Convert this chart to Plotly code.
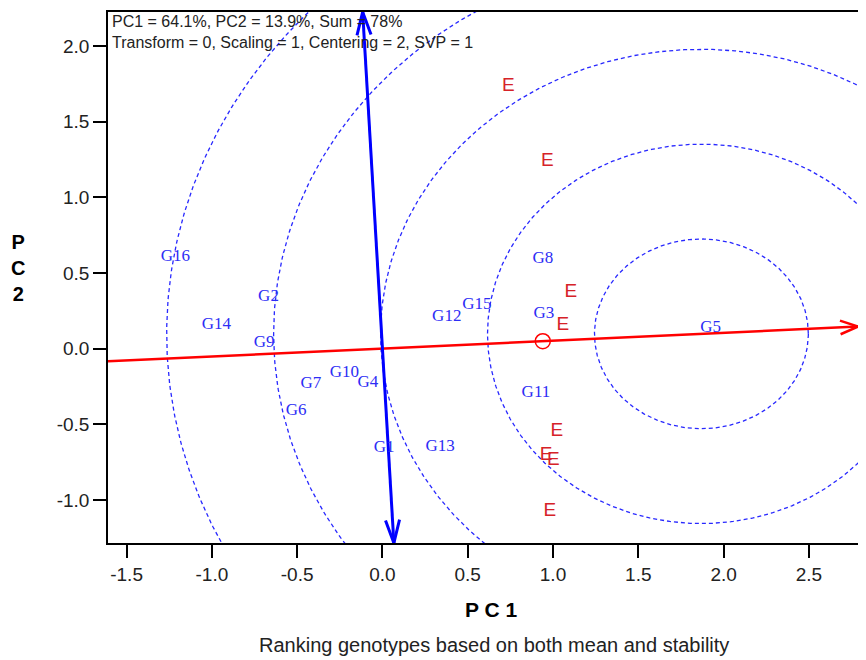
import numpy as np
import plotly.graph_objects as go

# ---------------- data ----------------
genotypes = ["G1", "G2", "G3", "G4", "G5", "G6", "G7", "G8",
             "G9", "G10", "G11", "G12", "G13", "G14", "G15", "G16"]
gen_pc1 = [0.010, -0.668, 0.947, -0.086, 1.924, -0.506, -0.419, 0.940,
           -0.693, -0.223, 0.900, 0.377, 0.338, -0.974, 0.553, -1.214]
gen_pc2 = [-0.658, 0.340, 0.229, -0.225, 0.135, -0.410, -0.233, 0.593,
           0.040, -0.159, -0.291, 0.208, -0.652, 0.159, 0.287, 0.604]

env_labels = ["E", "E", "E", "E", "E", "E", "E", "E"]
env_pc1 = [0.738, 0.967, 1.104, 1.057, 1.022, 0.959, 1.002, 0.982]
env_pc2 = [1.732, 1.236, 0.373, 0.157, -0.549, -0.703, -0.736, -1.077]

# average environment (defines AEC axis) and ideal-genotype centre
avg_env = (0.940, 0.049)
ideal_pc1 = 1.870
ring_step = 0.627
ring_count = 5

x_ticks = [-1.5, -1.0, -0.5, 0.0, 0.5, 1.0, 1.5, 2.0, 2.5]
y_ticks = [-1.0, -0.5, 0.0, 0.5, 1.0, 1.5, 2.0]
x_range = [-1.609, 2.835]
y_range = [-1.285, 2.225]

info_text = "PC1 = 64.1%, PC2 = 13.9%, Sum = 78%<br>Transform = 0, Scaling = 1, Centering = 2, SVP = 1"
caption = "Ranking genotypes based on both mean and stability"

# ---------------- layout constants ----------------
OFF = 8                      # page body margin of the html page
W, H = 866 - OFF, 660 - OFF
PLOT_L, PLOT_R, PLOT_T, PLOT_B = 108, 866, 12, 543   # screen pixels
VIS_R = 858                                           # right edge actually visible
ML, MT = PLOT_L - OFF, PLOT_T - OFF
PW, PH = PLOT_R - PLOT_L, PLOT_B - PLOT_T
MR = W - ML - PW
MB = H - MT - PH
sx = PW / (x_range[1] - x_range[0])
sy = PH / (y_range[1] - y_range[0])

RED = "rgb(255,0,0)"
BLUE = "rgb(0,0,255)"
GEN_COL = "rgb(45,45,245)"
ENV_COL = "rgb(214,34,40)"

slope = avg_env[1] / avg_env[0]


def arrow_wings(tip, direction, length_px=21, half_angle_deg=19):
    """Open V arrowhead at tip pointing along direction (data units)."""
    dxp, dyp = direction[0] * sx, direction[1] * sy
    n = np.hypot(dxp, dyp)
    dxp, dyp = dxp / n, dyp / n
    pts = []
    for s in (1, -1):
        a = np.radians(half_angle_deg) * s
        bx = -(dxp * np.cos(a) - dyp * np.sin(a)) * length_px
        by = -(dxp * np.sin(a) + dyp * np.cos(a)) * length_px
        pts.append((tip[0] + bx / sx, tip[1] + by / sy))
    return [pts[0][0], tip[0], pts[1][0]], [pts[0][1], tip[1], pts[1][1]]


fig = go.Figure()

# concentric rings around the ideal genotype
cy = slope * ideal_pc1
theta = np.linspace(0, 2 * np.pi, 721)
for k in range(1, ring_count + 1):
    r = ring_step * k
    fig.add_trace(go.Scatter(
        x=ideal_pc1 + r * np.cos(theta), y=cy + r * np.sin(theta),
        mode="lines", line=dict(color="rgb(40,40,255)", width=1.3, dash="4px,3px"),
        hoverinfo="skip", showlegend=False))

# AEC abscissa (red) with arrow at the (visible) right edge
ax0 = x_range[0]
ax1 = x_range[1] - (PLOT_R - VIS_R) / sx
fig.add_trace(go.Scatter(x=[ax0, ax1], y=[slope * ax0, slope * ax1], mode="lines",
                         line=dict(color=RED, width=2.5), hoverinfo="skip", showlegend=False))
wx, wy = arrow_wings((ax1, slope * ax1), (1, slope), length_px=19, half_angle_deg=21)
fig.add_trace(go.Scatter(x=wx, y=wy, mode="lines", line=dict(color=RED, width=2.5),
                         hoverinfo="skip", showlegend=False))

# AEC ordinate (blue), perpendicular through origin, arrows at both ends
perp = (-avg_env[1], avg_env[0])
t_top = y_range[1] / perp[1]
t_bot = y_range[0] / perp[1]
top = (perp[0] * t_top, perp[1] * t_top)
bot = (perp[0] * t_bot, perp[1] * t_bot)
fig.add_trace(go.Scatter(x=[bot[0], top[0]], y=[bot[1], top[1]], mode="lines",
                         line=dict(color=BLUE, width=3), hoverinfo="skip", showlegend=False))
for tip, d in ((top, perp), (bot, (-perp[0], -perp[1]))):
    wx, wy = arrow_wings(tip, d, length_px=24, half_angle_deg=17)
    fig.add_trace(go.Scatter(x=wx, y=wy, mode="lines", line=dict(color=BLUE, width=3),
                             hoverinfo="skip", showlegend=False))

# average environment marker
fig.add_trace(go.Scatter(x=[avg_env[0]], y=[avg_env[1]], mode="markers",
                         marker=dict(symbol="circle-open", size=15, color=RED, line=dict(width=1.5)),
                         hoverinfo="skip", showlegend=False))

# genotype labels
fig.add_trace(go.Scatter(x=gen_pc1, y=gen_pc2, mode="text", text=genotypes,
                         textposition="middle center",
                         textfont=dict(family="Liberation Serif", size=17, color=GEN_COL),
                         hoverinfo="skip", showlegend=False))
# environment labels
fig.add_trace(go.Scatter(x=env_pc1, y=env_pc2, mode="text", text=env_labels,
                         textposition="middle center",
                         textfont=dict(family="Liberation Sans", size=19, color=ENV_COL),
                         hoverinfo="skip", showlegend=False))

axis_common = dict(showgrid=False, zeroline=False, showline=True, linecolor="black",
                   linewidth=1.5, ticks="outside", ticklen=13, tickwidth=1.5, tickcolor="black",
                   tickfont=dict(family="Liberation Sans", size=19, color="#222"))


def px_x(screen_x):
    return (screen_x - PLOT_L) / PW


def px_y(screen_y):
    return (PLOT_B - screen_y) / PH


fig.update_layout(
    width=W, height=H,
    margin=dict(l=ML, r=MR, t=MT, b=MB, pad=0),
    plot_bgcolor="white", paper_bgcolor="white",
    xaxis=dict(range=x_range, tickvals=x_ticks, ticktext=[f"{v:.1f}" for v in x_ticks],
               mirror=True, **axis_common),
    yaxis=dict(range=y_range, tickvals=y_ticks, ticktext=[f"{v:.1f}" for v in y_ticks],
               mirror=False, **axis_common),
    annotations=[
        dict(text=info_text, xref="paper", yref="paper", x=0, y=1, xanchor="left", yanchor="top",
             xshift=2, yshift=1, showarrow=False, align="left",
             font=dict(family="Liberation Sans", size=16, color="#222")),
        dict(text="<b>P C 1</b>", xref="paper", yref="paper", x=px_x(490.7), y=px_y(609),
             xanchor="center", yanchor="middle", showarrow=False,
             font=dict(family="Liberation Sans", size=21, color="black")),
        dict(text="<b>P<br>C<br>2</b>", xref="paper", yref="paper", x=px_x(18), y=px_y(268),
             xanchor="center", yanchor="middle", showarrow=False,
             font=dict(family="Liberation Sans", size=20, color="black")),
        dict(text=caption, xref="paper", yref="paper", x=px_x(494), y=px_y(645),
             xanchor="center", yanchor="middle", showarrow=False,
             font=dict(family="Liberation Sans", size=20, color="#222")),
    ],
)

fig.write_html("out.html")
